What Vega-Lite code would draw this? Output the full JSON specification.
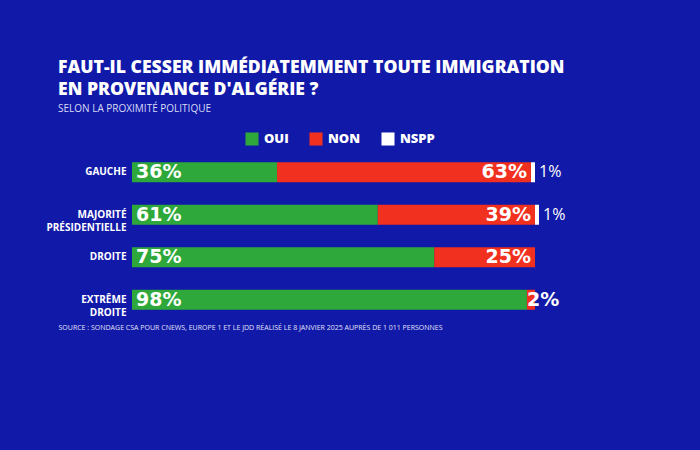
{
  "$schema": "https://vega.github.io/schema/vega-lite/v6.json",
  "width": 403,
  "height": 170,
  "autosize": {"type": "none"},
  "padding": {"left": 132, "top": 151, "right": 165, "bottom": 129},
  "background": "#1119a8",
  "title": {
    "text": ["FAUT-IL CESSER IMMÉDIATEMMENT TOUTE IMMIGRATION", "EN PROVENANCE D'ALGÉRIE ?"],
    "subtitle": "SELON LA PROXIMITÉ POLITIQUE",
    "anchor": "start",
    "frame": "group",
    "dx": -74,
    "offset": 18,
    "font": "Open Sans",
    "fontSize": 17.6,
    "fontWeight": 800,
    "color": "white",
    "lineHeight": 22.5,
    "subtitleFont": "Open Sans",
    "subtitleFontSize": 10,
    "subtitleColor": "#d8dcf5",
    "subtitlePadding": 5
  },
  "data": {
    "values": [
      {"group": "GAUCHE", "answer": "OUI", "value": 36},
      {"group": "GAUCHE", "answer": "NON", "value": 63},
      {"group": "GAUCHE", "answer": "NSPP", "value": 1},
      {"group": "MAJORITÉ PRÉSIDENTIELLE", "answer": "OUI", "value": 61},
      {"group": "MAJORITÉ PRÉSIDENTIELLE", "answer": "NON", "value": 39},
      {"group": "MAJORITÉ PRÉSIDENTIELLE", "answer": "NSPP", "value": 1},
      {"group": "DROITE", "answer": "OUI", "value": 75},
      {"group": "DROITE", "answer": "NON", "value": 25},
      {"group": "EXTRÊME DROITE", "answer": "OUI", "value": 98},
      {"group": "EXTRÊME DROITE", "answer": "NON", "value": 2}
    ]
  },
  "transform": [
    {"calculate": "indexof(['OUI','NON','NSPP'], datum.answer)", "as": "ord"},
    {"calculate": "datum.value + '%'", "as": "label"},
    {"stack": "value", "groupby": ["group"], "sort": [{"field": "ord", "order": "ascending"}], "as": ["v0", "v1"]}
  ],
  "encoding": {
    "y": {
      "field": "group",
      "type": "nominal",
      "sort": ["GAUCHE", "MAJORITÉ PRÉSIDENTIELLE", "DROITE", "EXTRÊME DROITE"],
      "scale": {"paddingInner": 0.53, "paddingOuter": 0.265},
      "axis": {
        "title": null,
        "domain": false,
        "ticks": false,
        "labelPadding": 6,
        "labelFont": "Open Sans",
        "labelFontWeight": "bold",
        "labelFontSize": 10,
        "labelColor": "white",
        "labelLineHeight": 13,
        "labelExpr": "indexof(datum.value, ' ') > 0 ? split(datum.value, ' ') : datum.value"
      }
    }
  },
  "layer": [
    {
      "mark": {"type": "bar", "cornerRadius": 0},
      "encoding": {
        "x": {
          "field": "v0",
          "type": "quantitative",
          "scale": {"domain": [0, 100], "nice": false},
          "axis": {
            "title": "SOURCE : SONDAGE CSA POUR CNEWS, EUROPE 1 ET LE JDD RÉALISÉ LE 8 JANVIER 2025 AUPRÈS DE 1 011 PERSONNES",
            "labels": false,
            "ticks": false,
            "domain": false,
            "grid": false,
            "titleX": -74,
            "titleY": 2,
            "titleAlign": "left",
            "titleBaseline": "top",
            "titleFont": "Open Sans",
            "titleFontSize": 7,
            "titleFontWeight": "normal",
            "titleColor": "#e0e3f8"
          }
        },
        "x2": {"field": "v1"},
        "color": {
          "field": "answer",
          "type": "nominal",
          "scale": {"domain": ["OUI", "NON", "NSPP"], "range": ["#2ea83a", "#f2301f", "#ffffff"]},
          "legend": {
            "title": null,
            "orient": "none",
            "legendX": 113,
            "legendY": -19,
            "direction": "horizontal",
            "symbolType": "square",
            "symbolSize": 170,
            "symbolStrokeWidth": 0,
            "symbolOpacity": 1,
            "labelFont": "Open Sans",
            "labelFontWeight": 800,
            "labelFontSize": 13,
            "labelColor": "white",
            "columnPadding": 20,
            "labelOffset": 5
          }
        }
      }
    },
    {
      "transform": [{"filter": "datum.answer == 'OUI'"}],
      "mark": {"type": "text", "align": "left", "dx": 4, "font": "DejaVu Sans", "fontWeight": "bold", "fontSize": 19, "color": "white", "baseline": "middle"},
      "encoding": {
        "x": {"field": "v0", "type": "quantitative"},
        "text": {"field": "label", "type": "nominal"}
      }
    },
    {
      "transform": [{"filter": "datum.answer == 'NON' && datum.value >= 5"}],
      "mark": {"type": "text", "align": "right", "dx": -4, "font": "DejaVu Sans", "fontWeight": "bold", "fontSize": 19, "color": "white", "baseline": "middle"},
      "encoding": {
        "x": {"field": "v1", "type": "quantitative"},
        "text": {"field": "label", "type": "nominal"}
      }
    },
    {
      "transform": [{"filter": "datum.answer == 'NON' && datum.value < 5"}],
      "mark": {"type": "text", "align": "left", "dx": 0, "font": "DejaVu Sans", "fontWeight": "bold", "fontSize": 19, "color": "white", "baseline": "middle"},
      "encoding": {
        "x": {"field": "v0", "type": "quantitative"},
        "text": {"field": "label", "type": "nominal"}
      }
    },
    {
      "transform": [{"filter": "datum.answer == 'NSPP'"}],
      "mark": {"type": "text", "align": "left", "dx": 4, "font": "Open Sans", "fontWeight": "normal", "fontSize": 16, "color": "white", "baseline": "middle"},
      "encoding": {
        "x": {"field": "v1", "type": "quantitative"},
        "text": {"field": "label", "type": "nominal"}
      }
    }
  ],
  "config": {"view": {"stroke": null}}
}
